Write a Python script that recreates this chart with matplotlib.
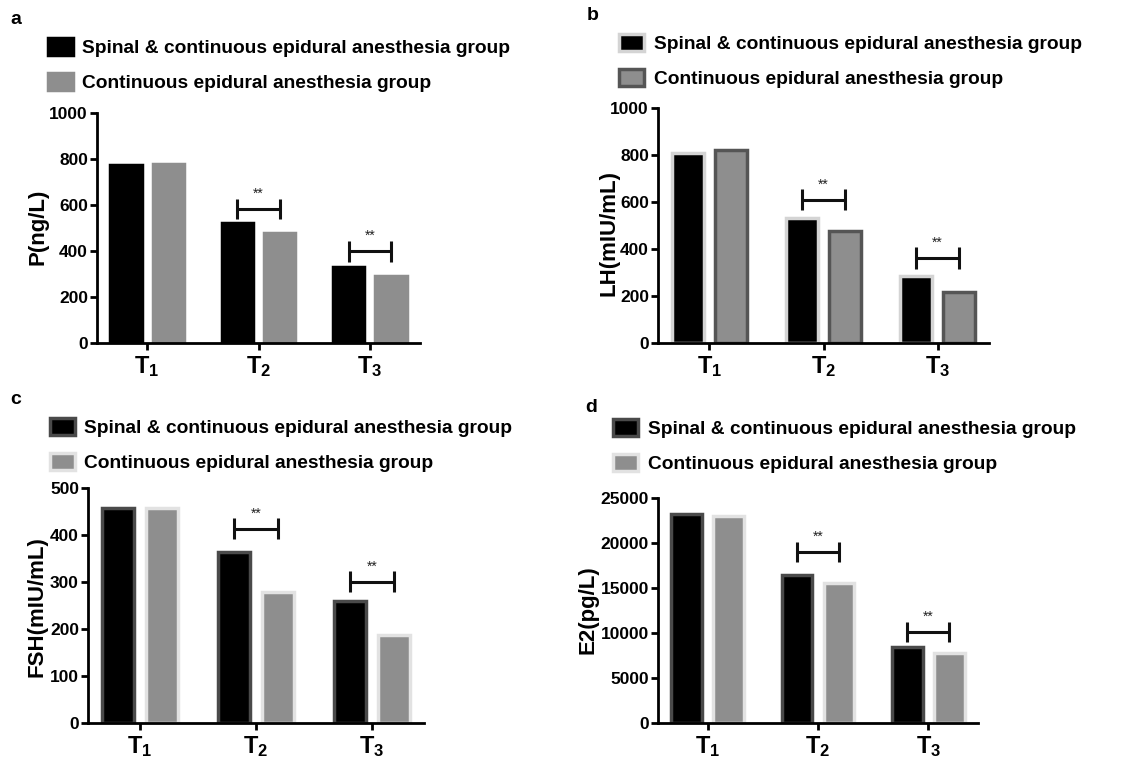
import matplotlib
matplotlib.use("Agg")
import matplotlib.pyplot as plt
import numpy as np

plt.rcParams['font.family'] = ['Liberation Sans', 'DejaVu Sans']
plt.rcParams['font.weight'] = 'bold'
plt.rcParams['mathtext.fontset'] = 'custom'
plt.rcParams['mathtext.bf'] = 'Liberation Sans:bold'
plt.rcParams['mathtext.rm'] = 'Liberation Sans:bold'

categories = [r'$\mathbf{T_1}$', r'$\mathbf{T_2}$', r'$\mathbf{T_3}$']
series_names = ['Spinal & continuous epidural anesthesia group',
                'Continuous epidural anesthesia group']

p_spinal = [772, 523, 330]
p_epidural = [778, 478, 290]
lh_spinal = [810, 530, 285]
lh_epidural = [820, 478, 218]
fsh_spinal = [457, 363, 260]
fsh_epidural = [457, 278, 187]
e2_spinal = [23200, 16450, 8500]
e2_epidural = [23050, 15600, 7750]

p_brackets = [(1, 583), (2, 399)]
lh_brackets = [(1, 610), (2, 362)]
fsh_brackets = [(1, 413), (2, 301)]
e2_brackets = [(1, 19000), (2, 10100)]

panels = [
    dict(letter='a', ylabel='P(ng/L)', ymax=1000, step=200, s1=p_spinal, s2=p_epidural,
         br=p_brackets, ec1='#000000', ec2='#8e8e8e',
         ax=[97, 113, 420, 343], leg=(48, 47), let=(10, 20), yl=(38, 227)),
    dict(letter='b', ylabel='LH(mIU/mL)', ymax=1000, step=200, s1=lh_spinal, s2=lh_epidural,
         br=lh_brackets, ec1='#d4d4d4', ec2='#555555',
         ax=[658, 108, 989, 343], leg=(619, 43), let=(587, 15), yl=(609, 233)),
    dict(letter='c', ylabel='FSH(mIU/mL)', ymax=500, step=100, s1=fsh_spinal, s2=fsh_epidural,
         br=fsh_brackets, ec1='#4a4a4a', ec2='#e2e2e2',
         ax=[88, 488, 424, 723], leg=(50, 427), let=(10, 400), yl=(37, 607)),
    dict(letter='d', ylabel='E2(pg/L)', ymax=25000, step=5000, s1=e2_spinal, s2=e2_epidural,
         br=e2_brackets, ec1='#4a4a4a', ec2='#e2e2e2',
         ax=[658, 498, 978, 723], leg=(613, 428), let=(585, 408), yl=(588, 610)),
]

W, H = 1127, 759
fig = plt.figure(figsize=(W / 100, H / 100), dpi=100)

x = np.arange(len(categories))
bw = 0.28
off = 0.19
for p in panels:
    l, t, r, b = p['ax']
    ax = fig.add_axes([l / W, 1 - b / H, (r - l) / W, (b - t) / H])
    b1 = ax.bar(x - off, p['s1'], bw, color='#000000', edgecolor=p['ec1'], linewidth=2.5,
                label=series_names[0])
    b2 = ax.bar(x + off, p['s2'], bw, color='#8e8e8e', edgecolor=p['ec2'], linewidth=2.5,
                label=series_names[1])
    ax.set_xlim(-0.45, 2.45)
    ax.set_ylim(0, p['ymax'])
    ax.set_yticks(np.arange(0, p['ymax'] + 1, p['step']))
    ax.set_xticks(x)
    ax.set_xticklabels(categories, fontsize=17)
    ax.tick_params(axis='y', labelsize=12.5, width=2, length=5, pad=1.5)
    ax.tick_params(axis='x', width=2, length=5, pad=3)
    for lab in ax.get_yticklabels():
        lab.set_fontweight('bold')
    for s in ['top', 'right']:
        ax.spines[s].set_visible(False)
    for s in ['left', 'bottom']:
        ax.spines[s].set_linewidth(2)
    ax.set_ylabel(p['ylabel'], fontsize=16, fontweight='bold', va='center')
    ylx, yly = p['yl']
    ax.yaxis.set_label_coords(ylx / W, 1 - yly / H, transform=fig.transFigure)
    # significance brackets
    cap = p['ymax'] * 0.045
    for (i, yv) in p['br']:
        x0, x1 = i - off, i + off
        ax.plot([x0, x1], [yv, yv], color='#111111', lw=2.2, solid_capstyle='butt')
        ax.plot([x0, x0], [yv - cap, yv + cap], color='#111111', lw=2.2, solid_capstyle='butt')
        ax.plot([x1, x1], [yv - cap, yv + cap], color='#111111', lw=2.2, solid_capstyle='butt')
        ax.text(i, yv + p['ymax'] * 0.035, '**', ha='center', va='bottom', fontsize=10,
                fontweight='normal', color='#222222')
    lx, ly = p['leg']
    ax.legend(handles=[b1, b2], loc='center left',
              bbox_to_anchor=(lx / W, 1 - (ly + 18) / H), bbox_transform=fig.transFigure,
              frameon=False, prop={'size': 13.8, 'weight': 'bold'},
              handlelength=1.3, handleheight=0.95, handletextpad=0.5,
              labelspacing=0.85, borderpad=0, borderaxespad=0)
    lx2, ly2 = p['let']
    fig.text(lx2 / W, 1 - ly2 / H, p['letter'], fontsize=14, fontweight='bold',
             ha='left', va='center')

fig.savefig('out.png', dpi=100)
